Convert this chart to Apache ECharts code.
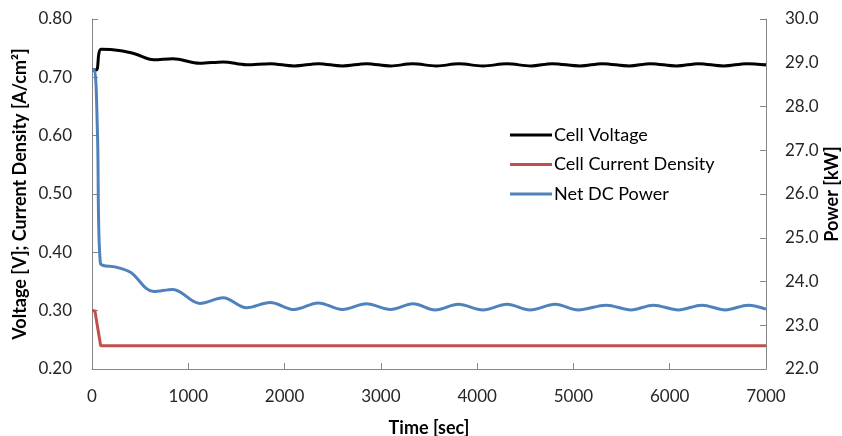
<!DOCTYPE html>
<html>
<head>
<meta charset="utf-8">
<script src="https://cdn.jsdelivr.net/npm/echarts@6/dist/echarts.min.js"></script>
<style>
html,body{margin:0;padding:0;background:#fff;}
#chart{width:842px;height:436px;}
</style>
</head>
<body>
<div id="chart"></div>
<script>
// ---- data ----
const xTicks = [0, 1000, 2000, 3000, 4000, 5000, 6000, 7000];
const leftTicks = [0.20, 0.30, 0.40, 0.50, 0.60, 0.70, 0.80];
const rightTicks = [22.0, 23.0, 24.0, 25.0, 26.0, 27.0, 28.0, 29.0, 30.0];

const timeVoltage = [0, 45, 97, 300, 450, 640, 840, 1120, 1362, 1605, 1850, 2100, 2350, 2600, 2850, 3100, 3330, 3580, 3810, 4060, 4310, 4560, 4780, 5070, 5300, 5580, 5800, 6070, 6300, 6560, 6800, 7000];
const cellVoltage = [0.7125, 0.7125, 0.748, 0.7455, 0.740, 0.7300, 0.7318, 0.7240, 0.7265, 0.7215, 0.7235, 0.7195, 0.7235, 0.7195, 0.7235, 0.7195, 0.7232, 0.7195, 0.7232, 0.7195, 0.7232, 0.7195, 0.7235, 0.7195, 0.7235, 0.7195, 0.7235, 0.7195, 0.7235, 0.7195, 0.7235, 0.721];

const timeCurrent = [0, 30, 90, 7000];
const currentDensity = [0.30, 0.30, 0.24, 0.24];

const timePower = [0, 25, 56, 87, 250, 400, 640, 840, 1120, 1362, 1605, 1850, 2100, 2350, 2600, 2850, 3100, 3335, 3565, 3805, 4060, 4310, 4550, 4810, 5050, 5340, 5600, 5830, 6090, 6335, 6577, 6817, 7000];
const netPower = [28.83, 28.83, 27.46, 24.42, 24.33, 24.21, 23.77, 23.82, 23.50, 23.63, 23.40, 23.52, 23.36, 23.51, 23.36, 23.49, 23.36, 23.49, 23.35, 23.48, 23.35, 23.48, 23.35, 23.48, 23.35, 23.46, 23.35, 23.46, 23.35, 23.46, 23.35, 23.46, 23.37];

const seriesNames = ['Cell Voltage', 'Cell Current Density', 'Net DC Power'];
const axisTitles = { x: 'Time [sec]', left: 'Voltage [V]; Current Density [A/cm\u00B2]', right: 'Power [kW]' };

const pairs = (xs, ys) => xs.map((x, i) => [x, ys[i]]);

const FONT = 'Lato';
const axisLineColor = '#868686';
const labelColor = '#262626';

const chart = echarts.init(document.getElementById('chart'), null, { renderer: 'canvas' });
chart.setOption({
  animation: false,
  backgroundColor: '#ffffff',
  grid: { left: 92, right: 76, top: 19, bottom: 67, containLabel: false, outerBoundsMode: 'none' },
  legend: {
    orient: 'vertical',
    left: 510,
    top: 126,
    padding: 0,
    icon: 'rect',
    itemWidth: 42,
    itemHeight: 3,
    itemGap: 11.5,
    data: seriesNames,
    textStyle: { fontFamily: FONT, fontSize: 18, color: '#000', lineHeight: 18, padding: [0, 0, 0, -3] }
  },
  xAxis: {
    type: 'value',
    min: xTicks[0],
    max: xTicks[xTicks.length - 1],
    interval: xTicks[1] - xTicks[0],
    name: axisTitles.x,
    nameLocation: 'middle',
    nameGap: 50,
    nameMoveOverlap: false,
    nameTextStyle: { fontFamily: FONT, fontSize: 18, fontWeight: 'bold', color: '#000' },
    axisLine: { lineStyle: { color: axisLineColor, width: 1 } },
    axisTick: { inside: true, length: 6, lineStyle: { color: axisLineColor } },
    axisLabel: { fontFamily: FONT, fontSize: 17, color: labelColor, margin: 19, formatter: v => String(v) },
    splitLine: { show: false }
  },
  yAxis: [
    {
      type: 'value',
      position: 'left',
      min: leftTicks[0],
      max: leftTicks[leftTicks.length - 1],
      interval: 0.1,
      name: axisTitles.left,
      nameLocation: 'middle',
      nameRotate: 90,
      nameGap: 63,
      nameMoveOverlap: false,
      nameTextStyle: { fontFamily: FONT, fontSize: 18, fontWeight: 'bold', color: '#000' },
      axisLine: { show: true, lineStyle: { color: axisLineColor, width: 1 } },
      axisTick: { show: true, inside: true, length: 6, lineStyle: { color: axisLineColor } },
      axisLabel: { fontFamily: FONT, fontSize: 17, color: labelColor, margin: 20, formatter: v => v.toFixed(2) },
      splitLine: { show: false }
    },
    {
      type: 'value',
      position: 'right',
      min: rightTicks[0],
      max: rightTicks[rightTicks.length - 1],
      interval: 1,
      name: axisTitles.right,
      nameLocation: 'middle',
      nameRotate: 90,
      nameGap: 57,
      nameMoveOverlap: false,
      nameTextStyle: { fontFamily: FONT, fontSize: 18, fontWeight: 'bold', color: '#000' },
      axisLine: { show: true, lineStyle: { color: axisLineColor, width: 1 } },
      axisTick: { show: true, inside: true, length: 6, lineStyle: { color: axisLineColor } },
      axisLabel: { fontFamily: FONT, fontSize: 17, color: labelColor, margin: 19, formatter: v => v.toFixed(1) },
      splitLine: { show: false }
    }
  ],
  series: [
    {
      name: seriesNames[0],
      type: 'line',
      yAxisIndex: 0,
      data: pairs(timeVoltage, cellVoltage),
      showSymbol: false,
      symbol: 'none',
      smooth: 0.35,
      color: '#000000',
      lineStyle: { width: 3, color: '#000000' },
      z: 2
    },
    {
      name: seriesNames[1],
      type: 'line',
      yAxisIndex: 0,
      data: pairs(timeCurrent, currentDensity),
      showSymbol: false,
      symbol: 'none',
      color: '#C0504D',
      lineStyle: { width: 3, color: '#C0504D' },
      z: 3
    },
    {
      name: seriesNames[2],
      type: 'line',
      yAxisIndex: 1,
      data: pairs(timePower, netPower),
      showSymbol: false,
      symbol: 'none',
      smooth: 0.35,
      color: '#4F81BD',
      lineStyle: { width: 3, color: '#4F81BD' },
      z: 4
    }
  ]
});
</script>
</body>
</html>
